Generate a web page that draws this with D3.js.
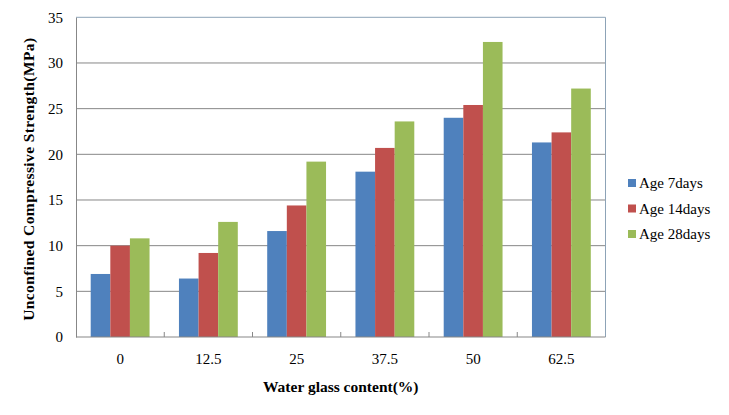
<!DOCTYPE html>
<html><head><meta charset="utf-8">
<script src="https://cdn.jsdelivr.net/npm/d3@7/dist/d3.min.js"></script>
<style>body{margin:0;background:#fff}svg{display:block}svg text{font-family:"Liberation Serif","Times New Roman",Times,serif}</style>
</head><body>
<script>
const categories = ["0", "12.5", "25", "37.5", "50", "62.5"];
const seriesNames = ["Age 7days", "Age 14days", "Age 28days"];
const age7 = [6.9, 6.4, 11.6, 18.1, 24.0, 21.3];
const age14 = [10.0, 9.2, 14.4, 20.7, 25.4, 22.4];
const age28 = [10.8, 12.6, 19.2, 23.6, 32.3, 27.2];
const yTicks = [0, 5, 10, 15, 20, 25, 30, 35];
const colors = ["#4F81BD", "#C0504D", "#9BBB59"];
const series = [age7, age14, age28];

const W = 729, H = 415;
const L = 76, R = 605.5, T = 17.3, B = 337;
const svg = d3.select("body").append("svg").attr("width", W).attr("height", H);

const x = d3.scaleBand().domain(categories).range([L, R]).paddingInner(0.6).paddingOuter(0.3);
const step = (R - L) / categories.length;
const barW = step / 4.5;
const y = d3.scaleLinear().domain([0, 35]).range([B, T]);
const xInner = d3.scaleBand().domain(d3.range(3)).range([0, barW * 3]);

svg.append("g").selectAll("line").data(yTicks.filter(d => d > 0 && d < 35)).join("line")
  .attr("x1", L).attr("x2", R).attr("y1", d => y(d)).attr("y2", d => y(d))
  .attr("stroke", "#878787").attr("stroke-width", 1);

const groupX = c => L + categories.indexOf(c) * step + (step - barW * 3) / 2;
series.forEach((s, si) => {
  svg.append("g").selectAll("rect").data(s).join("rect")
    .attr("x", (d, i) => groupX(categories[i]) + xInner(si))
    .attr("width", xInner.bandwidth())
    .attr("y", d => y(d))
    .attr("height", d => B - y(d))
    .attr("fill", colors[si]);
});

svg.append("line").attr("x1", L).attr("x2", R).attr("y1", T).attr("y2", T).attr("stroke", "#8DA3B7");
svg.append("line").attr("x1", R).attr("x2", R).attr("y1", T).attr("y2", B).attr("stroke", "#8DA3B7");

const yAxis = svg.append("g").attr("transform", `translate(${L},0)`)
  .call(d3.axisLeft(y).tickValues(yTicks).tickSize(0).tickPadding(13));
yAxis.attr("font-family", null);
yAxis.select(".domain").attr("stroke", "#878787");
yAxis.selectAll("text").attr("font-size", 15).attr("fill", "#000");

const xAxis = svg.append("g").attr("transform", `translate(0,${B})`)
  .call(d3.axisBottom(x).tickSize(0).tickPadding(16));
xAxis.attr("font-family", null);
xAxis.select(".domain").attr("stroke", "#878787").attr("d", `M${L},0H${R}`);
xAxis.selectAll("text").attr("font-size", 15).attr("fill", "#000");
svg.append("g").selectAll("line").data(d3.range(1, categories.length)).join("line")
  .attr("x1", i => L + i * step).attr("x2", i => L + i * step)
  .attr("y1", B).attr("y2", B - 5).attr("stroke", "#878787");

svg.append("text").attr("x", (L + R) / 2).attr("y", 392).attr("text-anchor", "middle")
  .attr("font-weight", "bold").attr("font-size", 15.5).text("Water glass content(%)");
svg.append("text").attr("transform", `translate(34,${(T + B) / 2 + 2}) rotate(-90)`).attr("text-anchor", "middle")
  .attr("font-weight", "bold").attr("font-size", 15.5).attr("letter-spacing", 0.4).text("Unconfined Compressive Strength(MPa)");

const leg = svg.append("g");
seriesNames.forEach((n, i) => {
  const yy = 183 + i * 25.5;
  leg.append("rect").attr("x", 628).attr("y", yy - 4).attr("width", 8).attr("height", 8).attr("fill", colors[i]);
  leg.append("text").attr("x", 639).attr("y", yy + 5).attr("font-size", 15).text(n);
});
</script>
</body></html>
